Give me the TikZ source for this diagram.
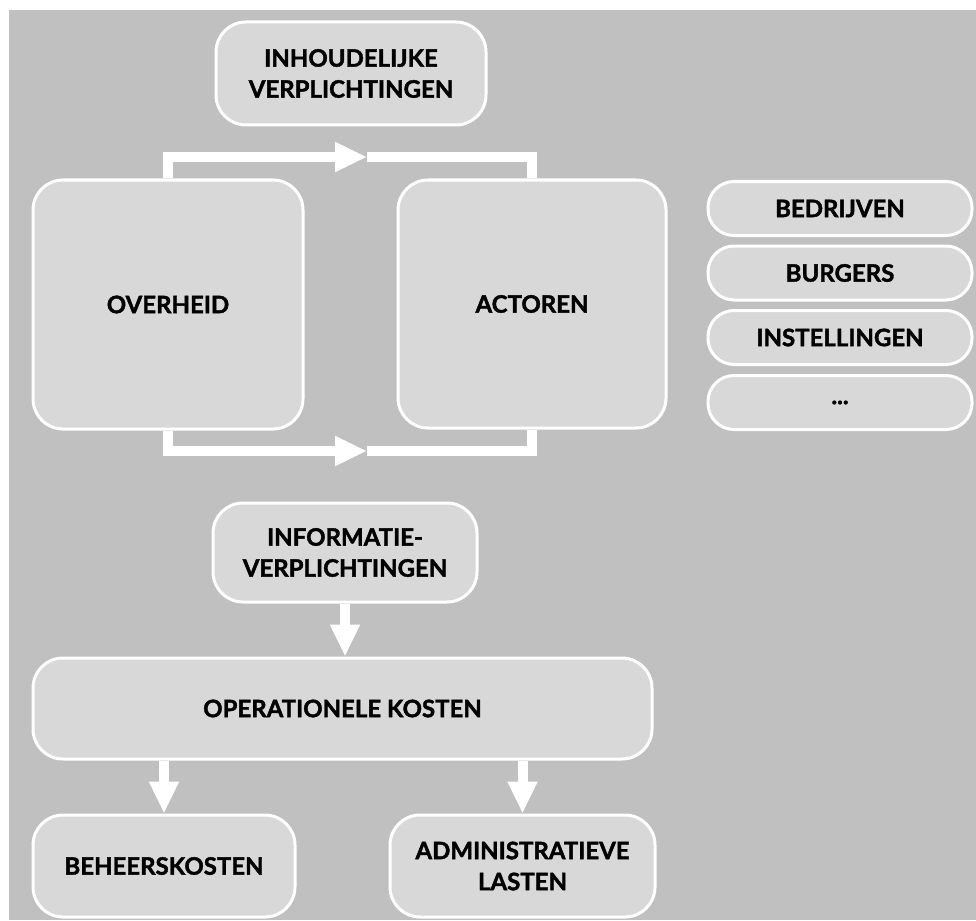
\documentclass[tikz,border=0pt]{standalone}
\usepackage{fontspec}
\setmainfont{Lato}[BoldFeatures={FakeBold=1.6}]
\usetikzlibrary{arrows.meta}
\definecolor{bggray}{RGB}{192,192,192}
\definecolor{boxgray}{RGB}{216,216,216}

\begin{document}
\begin{tikzpicture}[x=1pt,y=-1pt,
   box/.style={draw=white, line width=3pt, fill=boxgray, rounded corners=30pt,
     align=center, inner sep=0pt, text=black,
     font=\fontsize{24}{31}\selectfont\bfseries},
   pill/.style={box, rounded corners=26pt, minimum width=264pt, minimum height=54pt},
   flow/.style={draw=white, line width=10pt},
   head/.style={-{Triangle[length=32pt,width=28pt]}}]
   \useasboundingbox (0,0) rectangle (976,920);
   \fill[white] (0,0) rectangle (976,920);
   \fill[bggray] (9,10) rectangle (976,920);
   % upper part
   \node[box, minimum width=270pt, minimum height=103pt] (inhoud) at (351,73.5)
      {INHOUDELIJKE\\VERPLICHTINGEN};
   \node[box, minimum width=270pt, minimum height=249pt] (overheid) at (168,304.5) {OVERHEID};
   \node[box, minimum width=268pt, minimum height=248pt] (actoren) at (532,304) {ACTOREN};
   \coordinate (topmid) at (367,157);
   \coordinate (botmid) at (367,451);
   \draw[flow, head] (overheid.north) |- (topmid);
   \draw[flow] (topmid) -| (actoren.north);
   \draw[flow, head] (overheid.south) |- (botmid);
   \draw[flow] (botmid) -| (actoren.south);
   % actors
   \node[pill] (bedrijven) at (840,208.5) {BEDRIJVEN};
   \node[pill] (burgers) at (840,273) {BURGERS};
   \node[pill] (instellingen) at (840,337.5) {INSTELLINGEN};
   \node[pill] (overig) at (840,402.5) {...};
   % lower part
   \node[box, minimum width=264pt, minimum height=99pt] (info) at (345,552.5)
      {INFORMATIE-\\VERPLICHTINGEN};
   \node[box, minimum width=619pt, minimum height=101pt] (oper) at (342.5,708.5)
      {OPERATIONELE KOSTEN};
   \node[box, minimum width=262pt, minimum height=102pt] (beheer) at (164,866) {BEHEERSKOSTEN};
   \node[box, minimum width=265pt, minimum height=102pt] (admin) at (522.5,866)
      {ADMINISTRATIEVE\\LASTEN};
   \draw[flow, head] (info.south) -- (info.south |- oper.north);
   \draw[flow, head] (beheer.north |- oper.south) -- (beheer.north);
   \draw[flow, head] (admin.north |- oper.south) -- (admin.north);
\end{tikzpicture}
\end{document}
